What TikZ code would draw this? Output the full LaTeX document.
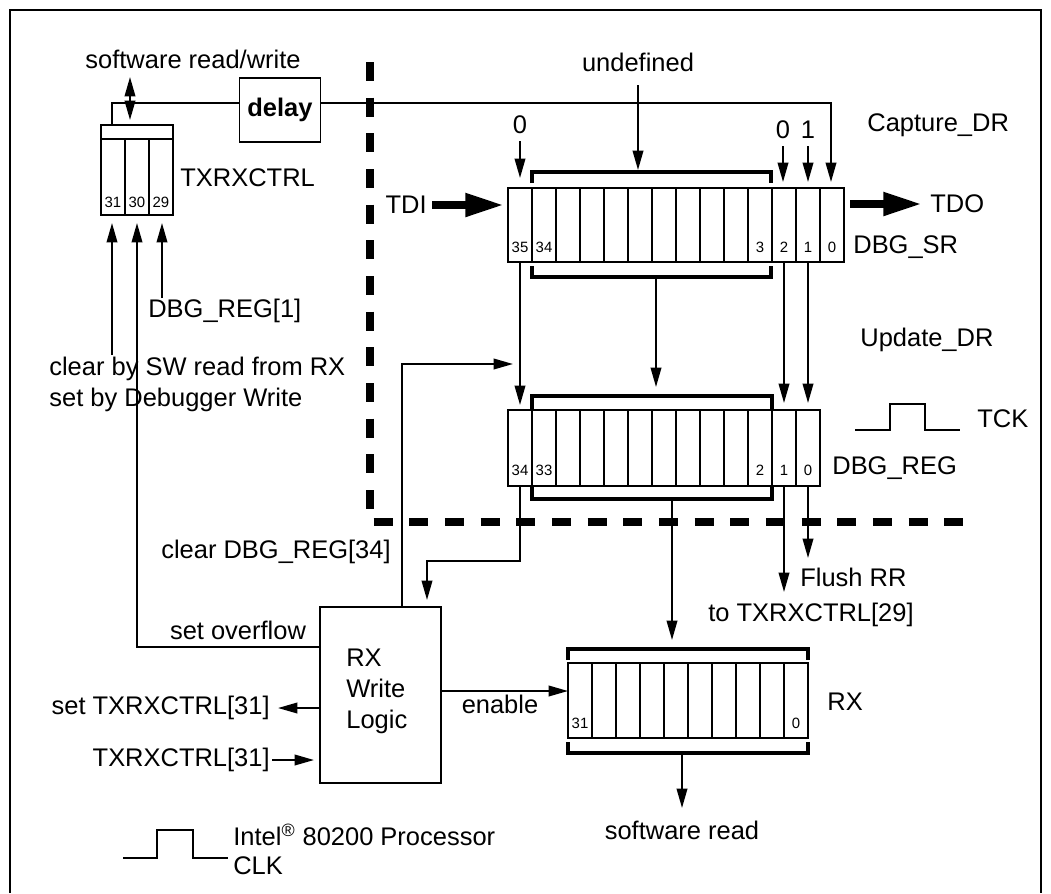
\documentclass[tikz,border=0pt]{standalone}
\usepackage{fontspec}
\setmainfont{Liberation Sans}
\usetikzlibrary{arrows.meta}

\tikzset{
  lbl/.style={font=\fontsize{14.5}{17.6}\selectfont, inner sep=0pt},
  bitno/.style={font=\fontsize{8.5}{10}\selectfont, inner sep=0pt},
  wire/.style={line width=1.1pt},
  arr/.style={wire, -{Triangle[length=11pt,width=6pt]}},
  darr/.style={wire, {Triangle[length=11pt,width=6pt]}-{Triangle[length=11pt,width=6pt]}},
  fatarr/.style={line width=4.5pt, -{Triangle[length=22pt,width=12.5pt]}},
  brk/.style={line width=1.8pt},
  regline/.style={line width=1.1pt},
  logicbox/.style={draw, line width=1.1pt, inner sep=0pt},
  jtagsep/.style={line width=4.8pt, dash pattern=on 10.8pt off 9.5pt},
  clkwave/.style={line width=1.1pt},
}

\begin{document}
\begin{tikzpicture}[x=0.02cm, y=-0.02cm]
\useasboundingbox (0,0) rectangle (1051,893);

% Frame
\draw[wire] (10,893) -- (10,10) -- (1041,10) -- (1041,893);

% Clock domain boundary
\draw[jtagsep] (370,62) -- (370,522) -- (978,522);

% TXRXCTRL
\draw[regline] (101,125) rectangle (173,215);
\draw[regline] (101,139) -- (173,139);
\foreach \x in {125,149} \draw[regline] (\x,139) -- (\x,215);
\node[bitno] (tx31) at (113,202) {31};
\node[bitno] (tx30) at (137,202) {30};
\node[bitno] (tx29) at (161,202) {29};
\node[lbl, anchor=west] (txname) at (180,178) {TXRXCTRL};
\coordinate (tx31in) at (112,223);
\coordinate (tx30in) at (137,223);
\coordinate (tx29in) at (162,223);
\coordinate (txtop) at (112,125);

\node[lbl] (swrw) at (193,59) {software read/write};
\coordinate (rwtop) at (130,77);
\coordinate (rwbot) at (130,120);
\draw[darr] (rwtop) -- (rwbot);

% delay
\node[logicbox, minimum width=1.62cm, minimum height=1.28cm,
  font=\fontsize{14.5}{17.6}\selectfont\bfseries] (delay) at (280,110) {delay};
\coordinate (dlin) at (239,103);
\coordinate (dlout) at (320,103);
\coordinate (sr0in) at (831,182);
\draw[wire] (txtop) |- (dlin);
\draw[arr] (dlout) -| (sr0in);

% DBG_SR
\draw[regline] (508,188) rectangle (844,262);
\foreach \i in {1,...,13} \draw[regline] (508+24*\i,188) -- (508+24*\i,262);
\node[bitno] (sr35) at (520,247) {35};
\node[bitno] (sr34) at (544,247) {34};
\node[bitno] (sr3) at (760,247) {3};
\node[bitno] (sr2) at (784,247) {2};
\node[bitno] (sr1) at (808,247) {1};
\node[bitno] (sr0) at (832,247) {0};
\draw[brk] (532,183) -- (532,172) -- (771,172) -- (771,183);
\draw[brk] (532,266) -- (532,277) -- (771,277) -- (771,266);
\node[lbl, anchor=west] (srname) at (853,247) {DBG\_SR};
\node[lbl, anchor=west] (capture) at (867,125) {Capture\_DR};

\node[lbl] (undef) at (638,62) {undefined};
\coordinate (undefs) at (638,85);
\coordinate (undeft) at (638,170);
\draw[arr] (undefs) -- (undeft);

\node[lbl] (zeroa) at (520,125) {0};
\node[lbl] (zerob) at (783,130) {0};
\node[lbl] (oneb) at (808,130) {1};
\coordinate (sr35in) at (520,178);
\coordinate (sr2in) at (783,182);
\coordinate (sr1in) at (808,182);
\draw[arr] (zeroa.south) ++(0,7) coordinate (za) (za) -- (sr35in);
\draw[arr] (zerob.south) ++(0,7) coordinate (zb) (zb) -- (sr2in);
\draw[arr] (oneb.south) ++(0,7) coordinate (ob) (ob) -- (sr1in);

% TDI / TDO
\node[lbl, anchor=east] (tdi) at (427,205) {TDI};
\coordinate (tdis) at (432,205);
\coordinate (tdit) at (504,205);
\draw[fatarr] (tdis) -- (tdit);
\coordinate (tdos) at (850,204);
\coordinate (tdot) at (922,204);
\draw[fatarr] (tdos) -- (tdot);
\node[lbl, anchor=west] (tdo) at (930,204) {TDO};

% DBG_REG
\draw[regline] (508,410) rectangle (820,486);
\foreach \i in {1,...,12} \draw[regline] (508+24*\i,410) -- (508+24*\i,486);
\node[bitno] (rg34) at (520,470) {34};
\node[bitno] (rg33) at (544,470) {33};
\node[bitno] (rg2) at (760,470) {2};
\node[bitno] (rg1) at (784,470) {1};
\node[bitno] (rg0) at (808,470) {0};
\draw[brk] (532,410) -- (532,396) -- (772,396) -- (772,410);
\draw[brk] (532,486) -- (532,499) -- (772,499) -- (772,486);
\node[lbl, anchor=west] (regname) at (832,468) {DBG\_REG};
\node[lbl, anchor=west] (update) at (860,340) {Update\_DR};

% SR -> REG
\coordinate (sr35b) at (520,262);
\coordinate (rg34in) at (520,405);
\coordinate (srmid) at (656,277);
\coordinate (rgmid) at (656,387);
\coordinate (sr2b) at (784,262);
\coordinate (rg1in) at (784,403);
\coordinate (sr1b) at (808,262);
\coordinate (rg0in) at (808,403);
\draw[arr] (sr35b) -- (rg34in);
\draw[arr] (srmid) -- (rgmid);
\draw[arr] (sr2b) -- (rg1in);
\draw[arr] (sr1b) -- (rg0in);

% TCK
\draw[clkwave] (855,430) -- (890,430) -- (890,404) -- (925,404) -- (925,430) -- (960,430);
\node[lbl, anchor=west] (tck) at (977,419) {TCK};

% Flush / TXRXCTRL[29]
\coordinate (rg1b) at (784,486);
\coordinate (rg1t) at (784,592);
\coordinate (rg0b) at (808,486);
\coordinate (rg0t) at (808,558);
\draw[arr] (rg1b) -- (rg1t);
\draw[arr] (rg0b) -- (rg0t);
\node[lbl, anchor=west] (flush) at (800,577) {Flush RR};
\node[lbl, anchor=west] (totx) at (708,615) {to TXRXCTRL[29]};

% RX Write Logic
\node[logicbox, minimum width=2.42cm, minimum height=3.52cm, anchor=north west] (rxw) at (319,606) {};
\node[lbl, align=left, anchor=west] (rxwtxt) at (346,691) {RX\\Write\\Logic};

\coordinate (rg34b) at (520,486);
\coordinate (rxwin) at (427,600);
\draw[arr] (rg34b) -- ++(0,75) -| (rxwin);
\node[lbl] (clrreg) at (276,552) {clear DBG\_REG[34]};
\coordinate (clrs) at (402,606);
\coordinate (clrt) at (513,364);
\draw[arr] (clrs) |- (clrt);

\coordinate (ovf) at (320,647);
\draw[arr] (ovf) -| (tx30in);
\node[lbl] (setovf) at (238,630) {set overflow};

\coordinate (clrsw) at (112,355);
\draw[arr] (clrsw) -- (tx31in);
\coordinate (dbg1s) at (162,298);
\draw[arr] (dbg1s) -- (tx29in);
\node[lbl, anchor=west] (dbg1) at (148,311) {DBG\_REG[1]};
\node[lbl, align=left, anchor=west] (clrset) at (49,384) {clear by SW read from RX\\set by Debugger Write};

\coordinate (setos) at (319,708);
\coordinate (setot) at (278,708);
\draw[arr] (setos) -- (setot);
\node[lbl, anchor=east] (settx) at (270,708) {set TXRXCTRL[31]};
\coordinate (txins) at (272,760);
\coordinate (txint) at (314,760);
\draw[arr] (txins) -- (txint);
\node[lbl, anchor=east] (txin) at (270,760) {TXRXCTRL[31]};

% RX
\draw[regline] (568,663) rectangle (808,738);
\foreach \i in {1,...,9} \draw[regline] (568+24*\i,663) -- (568+24*\i,738);
\node[bitno] (rx31) at (580,723) {31};
\node[bitno] (rx0) at (796,723) {0};
\draw[brk] (568,660) -- (568,649) -- (808,649) -- (808,660);
\draw[brk] (568,742) -- (568,753) -- (808,753) -- (808,742);
\node[lbl, anchor=west] (rxname) at (827,702) {RX};

\coordinate (rgbot) at (672,499);
\coordinate (rxtop) at (672,640);
\draw[arr] (rgbot) -- (rxtop);
\coordinate (rxbot) at (682,753);
\coordinate (swrdt) at (682,808);
\draw[arr] (rxbot) -- (swrdt);
\node[lbl, anchor=north] (swrd) at (682,821) {software read};

\coordinate (ens) at (440,691);
\coordinate (ent) at (568,691);
\draw[arr] (ens) -- (ent);
\node[lbl] (enable) at (500,704) {enable};

% Core clock
\draw[clkwave] (123,858) -- (157,858) -- (157,830) -- (193,830) -- (193,858) -- (228,858);
\node[lbl, anchor=west] (intel) at (233,835) {Intel\textsuperscript{\textregistered} 80200 Processor};
\node[lbl, anchor=west] (clk) at (233,866) {CLK};
\end{tikzpicture}
\end{document}
